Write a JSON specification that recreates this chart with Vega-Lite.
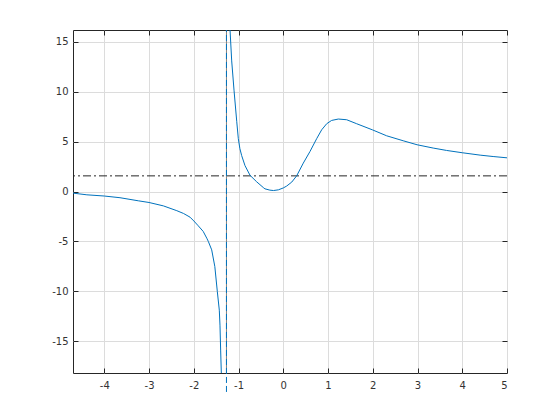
{
  "$schema": "https://vega.github.io/schema/vega-lite/v6.json",
  "width": 434,
  "height": 343,
  "autosize": {"type": "none"},
  "padding": {"left": 73, "top": 30, "right": 53, "bottom": 47},
  "background": "white",
  "config": {
    "view": {"stroke": "#262626", "strokeWidth": 1},
    "axis": {
      "labelFont": "DejaVu Sans",
      "labelFontSize": 10,
      "labelColor": "#333333",
      "tickColor": "#262626",
      "tickWidth": 1,
      "domain": false,
      "gridColor": "#dcdcdc",
      "gridWidth": 1,
      "title": null
    }
  },
  "datasets": {
    "curve": [
      {"branch": "left", "x": -4.7, "y": -0.16},
      {"branch": "left", "x": -4.39, "y": -0.33},
      {"branch": "left", "x": -4.0, "y": -0.45},
      {"branch": "left", "x": -3.65, "y": -0.62},
      {"branch": "left", "x": -3.24, "y": -0.93},
      {"branch": "left", "x": -3.0, "y": -1.1},
      {"branch": "left", "x": -2.68, "y": -1.44},
      {"branch": "left", "x": -2.38, "y": -1.92},
      {"branch": "left", "x": -2.23, "y": -2.2},
      {"branch": "left", "x": -2.085, "y": -2.57},
      {"branch": "left", "x": -2.0, "y": -2.95},
      {"branch": "left", "x": -1.9, "y": -3.44},
      {"branch": "left", "x": -1.79, "y": -4.0},
      {"branch": "left", "x": -1.71, "y": -4.68},
      {"branch": "left", "x": -1.676, "y": -5.0},
      {"branch": "left", "x": -1.6, "y": -5.85},
      {"branch": "left", "x": -1.53, "y": -7.53},
      {"branch": "left", "x": -1.475, "y": -10.0},
      {"branch": "left", "x": -1.43, "y": -11.9},
      {"branch": "left", "x": -1.415, "y": -13.4},
      {"branch": "left", "x": -1.4, "y": -15.9},
      {"branch": "left", "x": -1.385, "y": -18.2},
      {"branch": "right", "x": -1.19, "y": 16.2},
      {"branch": "right", "x": -1.153, "y": 13.1},
      {"branch": "right", "x": -1.1, "y": 10.1},
      {"branch": "right", "x": -1.04, "y": 7.0},
      {"branch": "right", "x": -1.005, "y": 5.3},
      {"branch": "right", "x": -0.97, "y": 4.3},
      {"branch": "right", "x": -0.93, "y": 3.6},
      {"branch": "right", "x": -0.856, "y": 2.6},
      {"branch": "right", "x": -0.744, "y": 1.63},
      {"branch": "right", "x": -0.594, "y": 0.97},
      {"branch": "right", "x": -0.447, "y": 0.4},
      {"branch": "right", "x": -0.41, "y": 0.27},
      {"branch": "right", "x": -0.3, "y": 0.14},
      {"branch": "right", "x": -0.22, "y": 0.1},
      {"branch": "right", "x": -0.11, "y": 0.17},
      {"branch": "right", "x": 0.0, "y": 0.36},
      {"branch": "right", "x": 0.076, "y": 0.55},
      {"branch": "right", "x": 0.19, "y": 0.95},
      {"branch": "right", "x": 0.3, "y": 1.58},
      {"branch": "right", "x": 0.447, "y": 2.85},
      {"branch": "right", "x": 0.597, "y": 4.02},
      {"branch": "right", "x": 0.746, "y": 5.3},
      {"branch": "right", "x": 0.858, "y": 6.19},
      {"branch": "right", "x": 0.97, "y": 6.8},
      {"branch": "right", "x": 1.08, "y": 7.13},
      {"branch": "right", "x": 1.23, "y": 7.27},
      {"branch": "right", "x": 1.417, "y": 7.2},
      {"branch": "right", "x": 1.64, "y": 6.8},
      {"branch": "right", "x": 1.99, "y": 6.19},
      {"branch": "right", "x": 2.31, "y": 5.59},
      {"branch": "right", "x": 2.68, "y": 5.09},
      {"branch": "right", "x": 2.99, "y": 4.69},
      {"branch": "right", "x": 3.35, "y": 4.36},
      {"branch": "right", "x": 3.65, "y": 4.12},
      {"branch": "right", "x": 4.0, "y": 3.89},
      {"branch": "right", "x": 4.4, "y": 3.65},
      {"branch": "right", "x": 4.69, "y": 3.51},
      {"branch": "right", "x": 5.0, "y": 3.38}
    ]
  },
  "layer": [
    {
      "data": {"values": [{}]},
      "mark": {"type": "rule", "color": "#808080", "strokeWidth": 1},
      "encoding": {
        "x": {"datum": -1.27, "type": "quantitative",
              "scale": {"domain": [-4.7, 5], "nice": false, "zero": false},
              "axis": {"orient": "bottom", "grid": true, "ticks": false, "labelPadding": 7,
                       "values": [-4, -3, -2, -1, 0, 1, 2, 3, 4, 5],
                       "labelExpr": "datum.value < 0 ? '-' + abs(datum.value) : '' + datum.value"}},
        "y": {"datum": -18.2, "type": "quantitative",
              "scale": {"domain": [-18.2, 16.2], "nice": false, "zero": false},
              "axis": {"orient": "left", "grid": true, "ticks": false, "labelPadding": 5,
                       "values": [-15, -10, -5, 0, 5, 10, 15],
                       "labelExpr": "datum.value < 0 ? '-' + abs(datum.value) : '' + datum.value"}},
        "y2": {"datum": 16.2}
      }
    },
    {
      "data": {"values": [{}]},
      "mark": {"type": "rule", "color": "#0072BD", "strokeWidth": 1, "strokeDash": [6, 3], "clip": false},
      "encoding": {
        "x": {"datum": -1.27, "type": "quantitative",
              "axis": {"orient": "bottom", "grid": false, "labels": false, "offset": -5, "tickSize": 5,
                       "values": [-4, -3, -2, -1, 0, 1, 2, 3, 4, 5]}},
        "y": {"datum": -20.1, "type": "quantitative",
              "axis": {"orient": "left", "grid": false, "labels": false, "offset": -5, "tickSize": 5,
                       "values": [-15, -10, -5, 0, 5, 10, 15]}},
        "y2": {"datum": 16.2}
      }
    },
    {
      "data": {"values": [{}]},
      "mark": {"type": "rule", "color": "#262626", "strokeWidth": 1, "strokeDash": [8, 3, 2, 3]},
      "encoding": {
        "y": {"datum": 1.57, "type": "quantitative",
              "axis": {"orient": "right", "grid": false, "labels": false, "offset": -5, "tickSize": 5,
                       "values": [-15, -10, -5, 0, 5, 10, 15]}}
      }
    },
    {
      "data": {"name": "curve"},
      "mark": {"type": "line", "color": "#0072BD", "strokeWidth": 1, "clip": true},
      "encoding": {
        "x": {"field": "x", "type": "quantitative",
              "axis": {"orient": "top", "grid": false, "labels": false, "offset": -5, "tickSize": 5,
                       "values": [-4, -3, -2, -1, 0, 1, 2, 3, 4, 5]}},
        "y": {"field": "y", "type": "quantitative", "axis": null},
        "detail": {"field": "branch"}
      }
    }
  ],
  "resolve": {"axis": {"x": "independent", "y": "independent"}}
}
